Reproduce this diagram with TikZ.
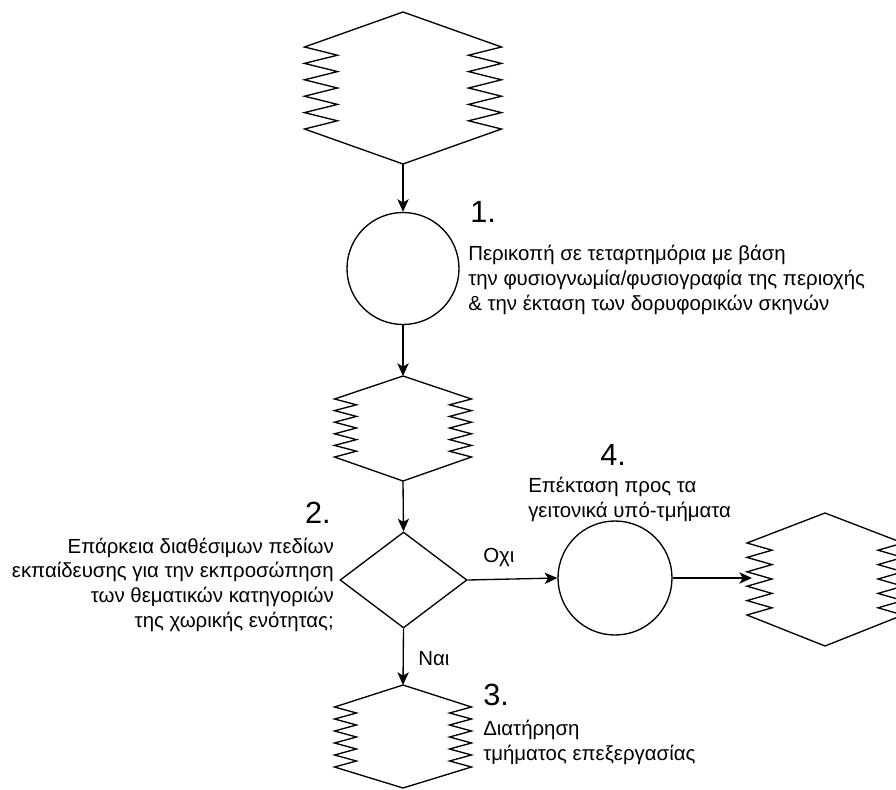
\documentclass[tikz,border=0pt]{standalone}
\usepackage{fontspec}
\setmainfont{Liberation Sans}
\usetikzlibrary{arrows.meta,shapes.geometric}

% zig-zag sided box: name, centre x, top y, zig start y, zig end y, bottom y, half width, zig depth
\newcommand\zigbox[8]{%
  \pgfmathsetmacro\zp{(#5-#4)/5}%
  \draw[outline] ({#2},{#3}) -- ({#2-#7},{#4})
    \foreach \i in {1,...,5}{ -- ({#2-#7+#8},{#4+(\i-0.5)*\zp}) -- ({#2-#7},{#4+\i*\zp}) }
    -- ({#2},{#6}) -- ({#2+#7},{#5})
    \foreach \i in {1,...,5}{ -- ({#2+#7-#8},{#5-(\i-0.5)*\zp}) -- ({#2+#7},{#5-\i*\zp}) }
    -- cycle;
  \coordinate (#1-top) at ({#2},{#3});
  \coordinate (#1-bot) at ({#2},{#6});
}

\begin{document}
\begin{tikzpicture}[x=0.75pt,y=-0.75pt,
  outline/.style={draw=black,line width=1pt,line join=miter},
  flow/.style={draw=black,line width=1pt,-{Stealth[length=9.5pt,width=8.5pt,inset=2.5pt]}},
  stepcircle/.style={circle,draw=black,line width=1pt,inner sep=0pt},
  label/.style={inner sep=0pt,font=\fontsize{15.3}{18.4}\selectfont},
  num/.style={inner sep=0pt,font=\fontsize{23}{26}\selectfont}]
\useasboundingbox (0,0) rectangle (896,789);
\clip (0,0) rectangle (896,789);

% data boxes
\zigbox{inA}{403}{12}{47}{129}{164}{98.5}{33}
\zigbox{midB}{403}{376}{399}{457}{481}{68.5}{22}
\zigbox{outC}{825}{513}{543}{615}{646}{78}{25}
\zigbox{keepD}{403}{685}{707}{767}{788}{68.5}{22}
\coordinate (outC-in) at (752,578);

% processes and decision
\node[stepcircle,minimum size=84pt] (s1) at (403,268.5) {};
\node[stepcircle,minimum size=85.5pt] (s4) at (615,578) {};
\node[diamond,draw=black,line width=1pt,inner sep=0pt,minimum width=95.25pt,minimum height=72pt] (dec) at (403.5,580) {};

% connectors
\draw[flow] (inA-bot) -- (s1.north);
\draw[flow] (s1.south) -- (midB-top);
\draw[flow] (midB-bot) -- (dec.north);
\draw[flow] (dec.east) -- (s4.west);
\draw[flow] (s4.east) -- (outC-in);
\draw[flow] (dec.south) -- (keepD-top);

% labels (multi-line blocks are anchored at their last line)
\node[num,anchor=base west] (n1) at (470,222) {1.};
\node[label,anchor=base west,align=left] (t1) at (468,310)
  {Περικοπή σε τεταρτημόρια με βάση\\την φυσιογνωμία/φυσιογραφία της περιοχής\\\& την έκταση των δορυφορικών σκηνών};
\node[num,anchor=base east] (n2) at (331,523) {2.};
\node[label,anchor=base east,align=right] (t2) at (334,627)
  {Επάρκεια διαθέσιμων πεδίων\\εκπαίδευσης για την εκπροσώπηση\\των θεματικών κατηγοριών\\της χωρικής ενότητας;};
\node[num,anchor=base west] (n3) at (483,705) {3.};
\node[label,anchor=base west,align=left] (t3) at (483,760)
  {Διατήρηση\\τμήματος επεξεργασίας};
\node[num,anchor=base west] (n4) at (600,465) {4.};
\node[label,anchor=base west,align=left] (t4) at (528,517)
  {Επέκταση προς τα\\γειτονικά υπό-τμήματα};
\node[label,anchor=base west] (no) at (483,562) {Οχι};
\node[label,anchor=base west] (yes) at (418,665) {Ναι};
\end{tikzpicture}
\end{document}
